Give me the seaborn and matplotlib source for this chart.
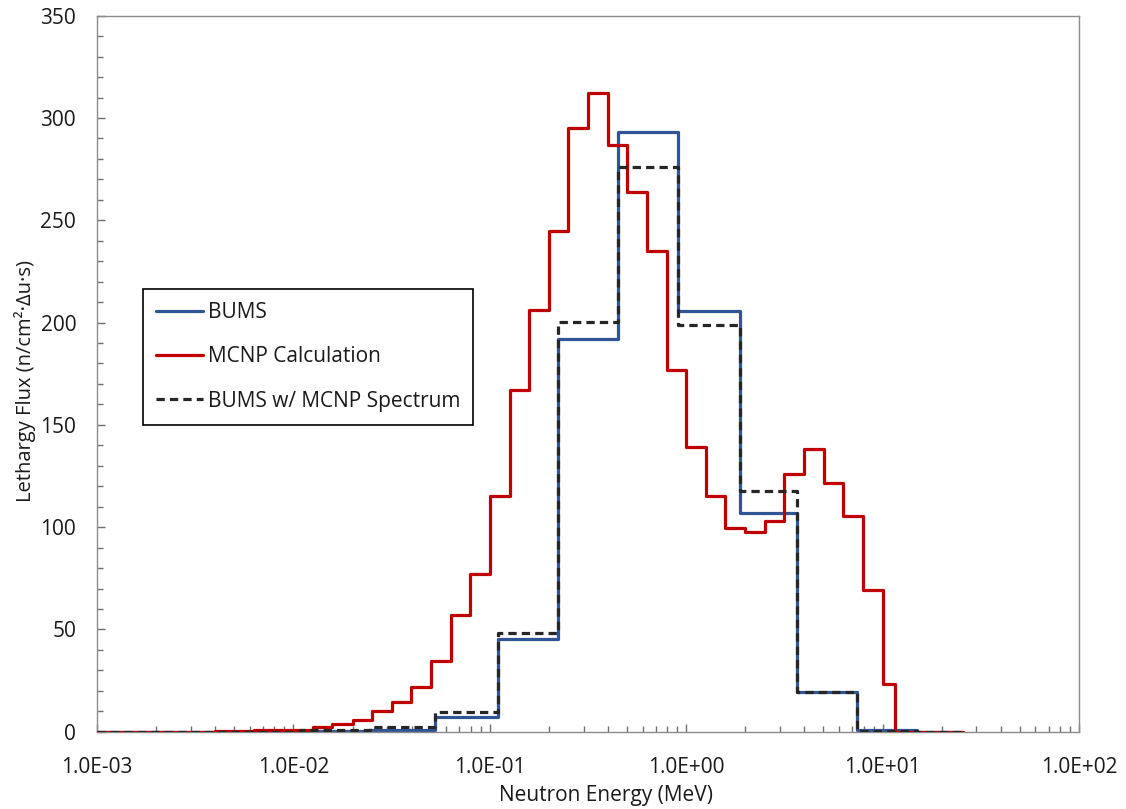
import numpy as np
import pandas as pd
import matplotlib
matplotlib.use("Agg")
import matplotlib.pyplot as plt
from matplotlib.ticker import FuncFormatter, LogLocator, MultipleLocator, NullFormatter
from matplotlib.lines import Line2D
import seaborn as sns

# ---------------- data ----------------
# BUMS unfolded spectrum: lower bin edges (MeV) + final upper edge, and lethargy flux per bin
bums_edges = [0.001, 0.0108, 0.0245, 0.0526, 0.110, 0.223, 0.448, 0.912, 1.87, 3.65, 7.43, 14.9, 25.7]
bums_flux = [0.0, 0.3, 1.0, 7.2, 45.3, 191.8, 293.1, 205.8, 106.9, 19.2, 1.0, 0.0]

# BUMS with MCNP spectrum (same bins)
bums_mcnp_flux = [0.0, 0.7, 2.1, 9.4, 48.2, 200.4, 276.0, 199.0, 117.8, 19.2, 0.3, 0.0]

# MCNP calculation: bin edges (MeV) + final upper edge, lethargy flux per bin
mcnp_edges = [0.001, 0.00398, 0.00501, 0.00631, 0.00794, 0.0100, 0.0126, 0.0158, 0.0200,
              0.0251, 0.0316, 0.0398, 0.0501, 0.0631, 0.0794, 0.100, 0.126, 0.158, 0.200,
              0.251, 0.316, 0.398, 0.501, 0.631, 0.794, 1.00, 1.26, 1.58, 2.00, 2.51,
              3.16, 3.98, 5.01, 6.31, 7.94, 10.0, 11.5, 25.7]
mcnp_flux = [0.0, 0.3, 0.5, 0.6, 0.8, 1.0, 2.2, 3.7, 5.5, 10.0, 14.5, 22.0, 34.4, 57.0,
             77.0, 115.0, 167.0, 206.0, 245.0, 295.0, 312.0, 287.0, 264.0, 235.0, 177.0,
             139.0, 115.0, 99.6, 97.4, 103.0, 126.0, 138.0, 121.5, 105.6, 69.4, 23.3, 0.0]

series_names = ["BUMS", "MCNP Calculation", "BUMS w/ MCNP Spectrum"]
x_tick_values = [1e-3, 1e-2, 1e-1, 1e0, 1e1, 1e2]
x_label = "Neutron Energy (MeV)"
y_label = "Lethargy Flux (n/cm²·Δu·s)"


def step_frame(edges, flux, name):
    vals = list(flux) + [flux[-1]]
    return pd.DataFrame({"energy": edges, "flux": vals, "series": name})


df = pd.concat([
    step_frame(bums_edges, bums_flux, series_names[0]),
    step_frame(mcnp_edges, mcnp_flux, series_names[1]),
    step_frame(bums_edges, bums_mcnp_flux, series_names[2]),
], ignore_index=True)

# ---------------- style ----------------
sns.set_theme(style="white")
plt.rcParams["font.family"] = ["Open Sans", "DejaVu Sans"]

colors = {series_names[0]: "#2F5597", series_names[1]: "#C00000", series_names[2]: "#262626"}
lw = 2.3

fig = plt.figure(figsize=(11.26, 8.09), dpi=100)
ax = fig.add_axes([97 / 1126, 1 - 731.7 / 809, (1079 - 97) / 1126, (731.7 - 15.7) / 809])

for name in [series_names[0], series_names[1], series_names[2]]:
    sub = df[df["series"] == name]
    sns.lineplot(data=sub, x="energy", y="flux", ax=ax, drawstyle="steps-post",
                 estimator=None, sort=False, color=colors[name], linewidth=lw,
                 legend=False)

# dashed style for third series
ax.lines[2].set_dashes((2.6, 1.6))
ax.lines[2].set_zorder(4)
ax.lines[1].set_zorder(3)
ax.lines[0].set_zorder(2)

ax.set_xscale("log")
ax.set_xlim(1e-3, 1e2)
ax.set_ylim(0, 350)
ax.set_xticks(x_tick_values)
ax.xaxis.set_major_formatter(FuncFormatter(lambda v, p: f"{v:.1E}"))
ax.xaxis.set_minor_locator(LogLocator(base=10, subs=np.arange(2, 10)))
ax.xaxis.set_minor_formatter(NullFormatter())
ax.yaxis.set_major_locator(MultipleLocator(50))
ax.yaxis.set_minor_locator(MultipleLocator(10))

spine_col = "#8c8c8c"
for s in ax.spines.values():
    s.set_color(spine_col)
    s.set_linewidth(1.0)
    s.set_visible(True)

ax.tick_params(which="major", direction="in", length=6, width=1, color="#707070",
               labelsize=15, labelcolor="#1a1a1a", pad=15)
ax.tick_params(axis="x", which="major", pad=18.5)
ax.tick_params(which="minor", direction="in", length=4, width=1, color="#707070")
ax.tick_params(axis="both", which="both", top=False, right=False, bottom=True, left=True)

ax.set_xlabel(x_label, fontsize=15, color="#1a1a1a")
ax.set_ylabel(y_label, fontsize=14.5, color="#1a1a1a")
ax.xaxis.set_label_coords((606 - 97) / 982, -0.075)
ax.yaxis.set_label_coords(-0.062, 0.49)

handles = [
    Line2D([], [], color=colors[series_names[0]], lw=lw),
    Line2D([], [], color=colors[series_names[1]], lw=lw),
    Line2D([], [], color=colors[series_names[2]], lw=lw, dashes=(2.6, 1.6)),
]
leg = ax.legend(handles, series_names, loc="upper left",
                bbox_to_anchor=((143 - 97) / 982, (731.7 - 289) / 716),
                borderaxespad=0, fontsize=15, frameon=True, fancybox=False,
                edgecolor="#000000", framealpha=1, handlelength=2.25,
                handletextpad=0.25, labelspacing=1.12, borderpad=0.62)
leg.get_frame().set_linewidth(1.2)
for t in leg.get_texts():
    t.set_color("#1a1a1a")

fig.savefig("out.png", dpi=100)
